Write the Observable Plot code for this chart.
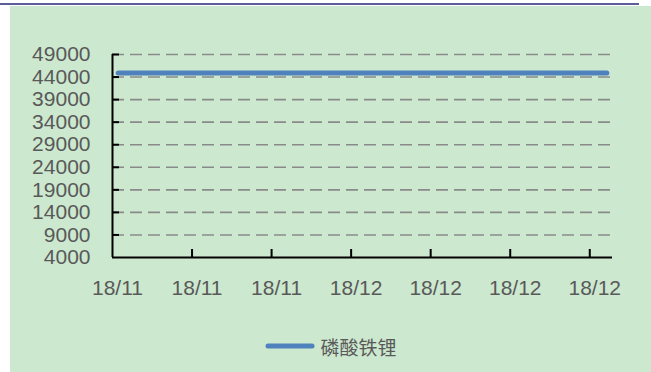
<!DOCTYPE html>
<html>
<head>
<meta charset="utf-8">
<script src="https://cdn.jsdelivr.net/npm/d3@7"></script>
<script src="https://cdn.jsdelivr.net/npm/@observablehq/plot@0.6"></script>
<style>
  html, body { margin: 0; padding: 0; background: #ffffff; }
  #wrap { position: relative; width: 651px; height: 372px; overflow: hidden; }
  #topbar { position: absolute; left: 0; top: 3px; width: 639px; height: 2px; background: #5b5e98; }
  #panel { position: absolute; left: 10px; top: 6px; right: 0; bottom: 0; background: #cce8cf; }
  #chart { position: absolute; left: 0; top: 0; }
  #legend { position: absolute; left: 10px; top: 320px; width: 641px; height: 52px;
            display: flex; align-items: center; justify-content: center;
            font-family: "Noto Sans CJK SC", sans-serif; font-size: 19px; color: #595959; }
  #legend svg { margin-right: 4px; }
</style>
</head>
<body>
<div id="wrap">
  <div id="topbar"></div>
  <div id="panel"></div>
  <div id="chart"></div>
  <div id="legend"></div>
</div>
<script>
const seriesName = "磷酸铁锂";
const dates = [
  "2018-11-12","2018-11-13","2018-11-14","2018-11-15","2018-11-16","2018-11-17","2018-11-18",
  "2018-11-19","2018-11-20","2018-11-21","2018-11-22","2018-11-23","2018-11-24","2018-11-25",
  "2018-11-26","2018-11-27","2018-11-28","2018-11-29","2018-11-30","2018-12-01","2018-12-02",
  "2018-12-03","2018-12-04","2018-12-05","2018-12-06","2018-12-07","2018-12-08","2018-12-09",
  "2018-12-10","2018-12-11","2018-12-12","2018-12-13","2018-12-14","2018-12-15","2018-12-16",
  "2018-12-17","2018-12-18","2018-12-19","2018-12-20","2018-12-21","2018-12-22","2018-12-23",
  "2018-12-24","2018-12-25"
];
const values = [
  44900,44900,44900,44900,44900,44900,44900,
  44900,44900,44900,44900,44900,44900,44900,
  44900,44900,44900,44900,44900,44900,44900,
  44900,44900,44900,44900,44900,44900,44900,
  44900,44900,44900,44900,44900,44900,44900,
  44900,44900,44900,44900,44900,44900,44900,
  44900,44900
];
const xTickDates = ["2018-11-12","2018-11-19","2018-11-26","2018-12-03","2018-12-10","2018-12-17","2018-12-24"];
const yTicks = [4000, 9000, 14000, 19000, 24000, 29000, 34000, 39000, 44000, 49000];
const xDomain = ["2018-11-12", "2018-12-26"];

const DAY = 864e5;
const data = dates.map((d, i) => ({date: new Date(Date.parse(d) + DAY / 2), value: values[i]}));
const xTicks = xTickDates.map(d => new Date(d));
const domainX = xDomain.map(d => new Date(d));

const chart = Plot.plot({
  width: 651,
  height: 320,
  marginLeft: 112,
  marginRight: 39,
  marginTop: 54,
  marginBottom: 63,
  style: {background: "transparent", fontFamily: "'Liberation Sans', Arial, sans-serif", fontSize: "21px", color: "#595959"},
  x: {type: "utc", domain: domainX},
  y: {domain: [yTicks[0], yTicks[yTicks.length - 1]]},
  marks: [
    Plot.gridY(yTicks.slice(1), {stroke: "#8a8a8a", strokeOpacity: 1, strokeWidth: 1.6, strokeDasharray: "12,6"}),
    Plot.axisY({ticks: yTicks, tickSize: 0, tickPadding: 22, label: null, tickFormat: d => String(d), fill: "#595959", fontSize: 21}),
    Plot.axisY({ticks: yTicks.slice(1), tickSize: -7, text: null, label: null, stroke: "#000", strokeWidth: 2}),
    Plot.axisX({ticks: xTicks, tickSize: 0, tickPadding: 23, label: null, tickFormat: d3.utcFormat("%y/%m"), dx: 5, fill: "#595959", fontSize: 21}),
    Plot.axisX({ticks: xTicks.slice(1), tickSize: -8, text: null, label: null, stroke: "#000", strokeWidth: 2}),
    Plot.ruleX([domainX[0]], {stroke: "#000", strokeWidth: 2}),
    Plot.ruleY([yTicks[0]], {stroke: "#000", strokeWidth: 2}),
    Plot.line(data, {x: "date", y: "value", stroke: "#4f81bd", strokeWidth: 5, strokeLinecap: "round"})
  ]
});
document.getElementById("chart").appendChild(chart);

const legend = document.getElementById("legend");
legend.innerHTML = `<svg width="52" height="10"><line x1="4" y1="5" x2="48" y2="5" stroke="#4f81bd" stroke-width="5" stroke-linecap="round"/></svg><span>${seriesName}</span>`;
</script>
</body>
</html>
